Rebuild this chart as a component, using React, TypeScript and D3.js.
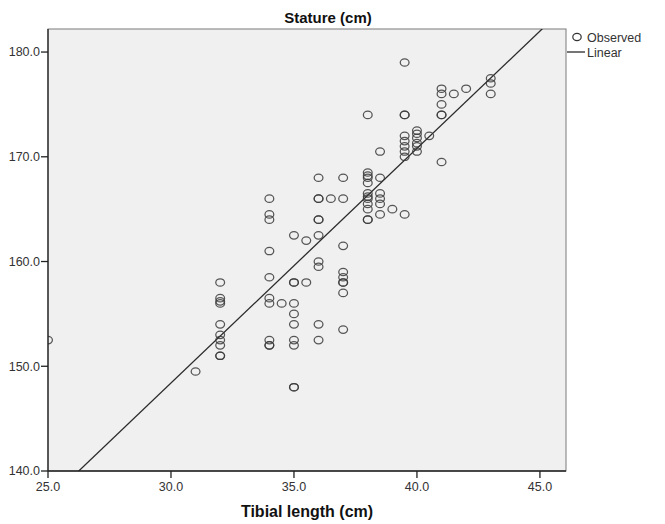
import * as d3 from "d3";

// observed points, paired by index: tibial length (cm) and stature (cm)
const tibia = [
  25, 31,
  32, 32, 32, 32, 32, 32, 32, 32, 32, 32,
  34, 34, 34, 34, 34, 34, 34, 34, 34, 34,
  34.5,
  35, 35, 35, 35, 35, 35, 35, 35, 35, 35,
  35.5, 35.5,
  36, 36, 36, 36, 36, 36, 36, 36, 36, 36,
  36.5,
  37, 37, 37, 37, 37, 37, 37, 37, 37,
  38, 38, 38, 38, 38, 38, 38, 38, 38, 38, 38, 38,
  38.5, 38.5, 38.5, 38.5, 38.5, 38.5,
  39,
  39.5, 39.5, 39.5, 39.5, 39.5, 39.5, 39.5, 39.5, 39.5,
  40, 40, 40, 40, 40, 40,
  40.5,
  41, 41, 41, 41, 41, 41,
  41.5, 42,
  43, 43, 43,
];
const stature = [
  152.5, 149.5,
  158, 156.5, 156.2, 156, 154, 153, 152.5, 152, 151, 151,
  166, 164.5, 164, 161, 158.5, 156.5, 156, 152.5, 152, 152,
  156,
  162.5, 158, 158, 156, 155, 154, 152.5, 152, 148, 148,
  162, 158,
  168, 166, 166, 164, 164, 162.5, 160, 159.5, 154, 152.5,
  166,
  168, 166, 161.5, 159, 158.5, 158, 158, 157, 153.5,
  174, 168.5, 168.2, 168, 167.5, 166.5, 166.2, 166, 165.5, 165, 164, 164,
  170.5, 168, 166.5, 166, 165.5, 164.5,
  165,
  179, 174, 174, 172, 171.5, 171, 170.5, 170, 164.5,
  172.5, 172.2, 171.8, 171.3, 171, 170.5,
  172,
  176.5, 176, 175, 174, 174, 169.5,
  176, 176.5,
  177.5, 177, 176,
];

// linear fit
const fitIntercept = 81.2;
const fitSlope = 2.24;

const xTicks = [25, 30, 35, 40, 45];
const yTicks = [140, 150, 160, 170, 180];

const W = 665;
const H = 524;
const L = 48, R = 566, T = 29, B = 471;
const font = "'Liberation Sans', Arial, sans-serif";

export default function App() {
  const x = d3.scaleLinear().domain([25, 46.06]).range([L, R]);
  const y = d3.scaleLinear().domain([140, 182.2]).range([B, T]);
  const fmt = d3.format(".1f");

  const xs = x.domain();
  const fitLine = d3.line<number>()
    .x((d) => x(d))
    .y((d) => y(fitIntercept + fitSlope * d));

  return (
    <svg
      width={W}
      height={H}
      style={{ position: "absolute", left: 0, top: 0, background: "#fff" }}
      fontFamily={font}
    >
      <defs>
        <clipPath id="plot">
          <rect x={L} y={T} width={R - L} height={B - T} />
        </clipPath>
      </defs>
      <rect x={L} y={T} width={R - L} height={B - T} fill="#f0f0f0" stroke="#7a7a7a" />

      <g clipPath="url(#plot)">
        <path d={fitLine([xs[0], xs[1]]) || ""} fill="none" stroke="#2b2b2b" strokeWidth={1.3} />
        {tibia.map((t, i) => (
          <ellipse
            key={i}
            cx={x(t)}
            cy={y(stature[i])}
            rx={4.4}
            ry={3.7}
            fill="none"
            stroke="#3a3a3a"
            strokeOpacity={0.85}
            strokeWidth={1.25}
          />
        ))}
      </g>

      {/* axes */}
      <line x1={L} x2={L} y1={T} y2={B} stroke="#222" strokeWidth={1.3} />
      <line x1={L} x2={R} y1={B} y2={B} stroke="#222" strokeWidth={1.3} />
      {yTicks.map((v) => (
        <g key={v}>
          <line x1={L - 7} x2={L} y1={y(v)} y2={y(v)} stroke="#222" strokeWidth={1.3} />
          <text x={L - 8} y={y(v)} dy="0.35em" textAnchor="end" fontSize={12.5} fill="#333">
            {fmt(v)}
          </text>
        </g>
      ))}
      {xTicks.map((v) => (
        <g key={v}>
          <line x1={x(v)} x2={x(v)} y1={B} y2={B + 7} stroke="#222" strokeWidth={1.3} />
          <text x={x(v)} y={491} textAnchor="middle" fontSize={12.5} fill="#333">
            {fmt(v)}
          </text>
        </g>
      ))}

      <text x={328} y={23} textAnchor="middle" fontSize={15} fontWeight="bold" fill="#111">
        Stature (cm)
      </text>
      <text x={307} y={517} textAnchor="middle" fontSize={16} fontWeight="bold" fill="#111">
        Tibial length (cm)
      </text>

      {/* legend */}
      <ellipse cx={577} cy={37} rx={4.2} ry={3.6} fill="none" stroke="#333" strokeWidth={1.2} />
      <text x={587} y={41.5} fontSize={12.5} fill="#333">Observed</text>
      <line x1={567} x2={585} y1={52} y2={52} stroke="#2b2b2b" strokeWidth={1.3} />
      <text x={587} y={56.5} fontSize={12.5} fill="#333">Linear</text>
    </svg>
  );
}
